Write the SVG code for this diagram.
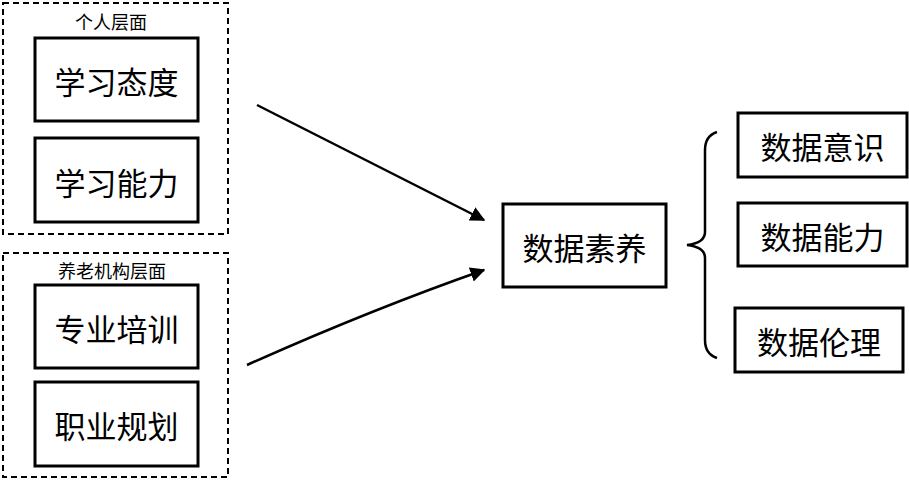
<svg xmlns="http://www.w3.org/2000/svg" width="909" height="480" viewBox="0 0 909 480">
<defs>
<style>
.grp{fill:none;stroke:#000;stroke-width:2;stroke-dasharray:6 4}
.box{fill:#fff;stroke:#000;stroke-width:3}
.t{font-family:"Noto Sans CJK SC","Noto Sans",sans-serif;font-size:31px;fill:#000;text-anchor:middle;dominant-baseline:central}
.lbl{font-family:"Noto Sans CJK SC","Noto Sans",sans-serif;font-size:18px;fill:#000;text-anchor:middle;dominant-baseline:central}
.ln{fill:none;stroke:#000;stroke-width:2.5}
</style>
<marker id="ah" viewBox="0 0 10 10" refX="9" refY="5" markerWidth="6" markerHeight="6" markerUnits="strokeWidth" orient="auto">
<path d="M0,0 L10,5 L0,10 z" fill="#000"/>
</marker>
</defs>
<rect width="909" height="480" fill="#fff"/>
<g id="group-personal">
<rect class="grp" x="3" y="3" width="225" height="231"/>
<text class="lbl" x="111" y="21">个人层面</text>
</g>
<g id="group-institution">
<rect class="grp" x="3" y="253" width="225" height="224"/>
<text class="lbl" x="112" y="270">养老机构层面</text>
</g>
<g id="n1"><rect class="box" x="35" y="38" width="163" height="83"/><text class="t" x="116.5" y="80">学习态度</text></g>
<g id="n2"><rect class="box" x="35" y="138" width="163" height="84"/><text class="t" x="116.5" y="181">学习能力</text></g>
<g id="n3"><rect class="box" x="35" y="285" width="163" height="83"/><text class="t" x="116.5" y="327">专业培训</text></g>
<g id="n4"><rect class="box" x="35" y="382" width="163" height="84"/><text class="t" x="116.5" y="424">职业规划</text></g>
<g id="center"><rect class="box" x="503" y="204" width="163" height="83"/><text class="t" x="584.5" y="246">数据素养</text></g>
<g id="r1"><rect class="box" x="738" y="113" width="169" height="64"/><text class="t" x="822.5" y="145">数据意识</text></g>
<g id="r2"><rect class="box" x="738" y="203" width="169" height="63"/><text class="t" x="822.5" y="235">数据能力</text></g>
<g id="r3"><rect class="box" x="735" y="308" width="168" height="64"/><text class="t" x="819" y="340">数据伦理</text></g>
<g id="connectors">
<line class="ln" x1="257" y1="105" x2="484" y2="220" marker-end="url(#ah)"/>
<path class="ln" d="M247,365 Q370,310 484,270" marker-end="url(#ah)"/>
<path class="ln" d="M717,132 Q705,136 705,150 L705,232 Q705,243 687,245 Q705,247 705,258 L705,340 Q705,354 717,358"/>
</g>
</svg>
